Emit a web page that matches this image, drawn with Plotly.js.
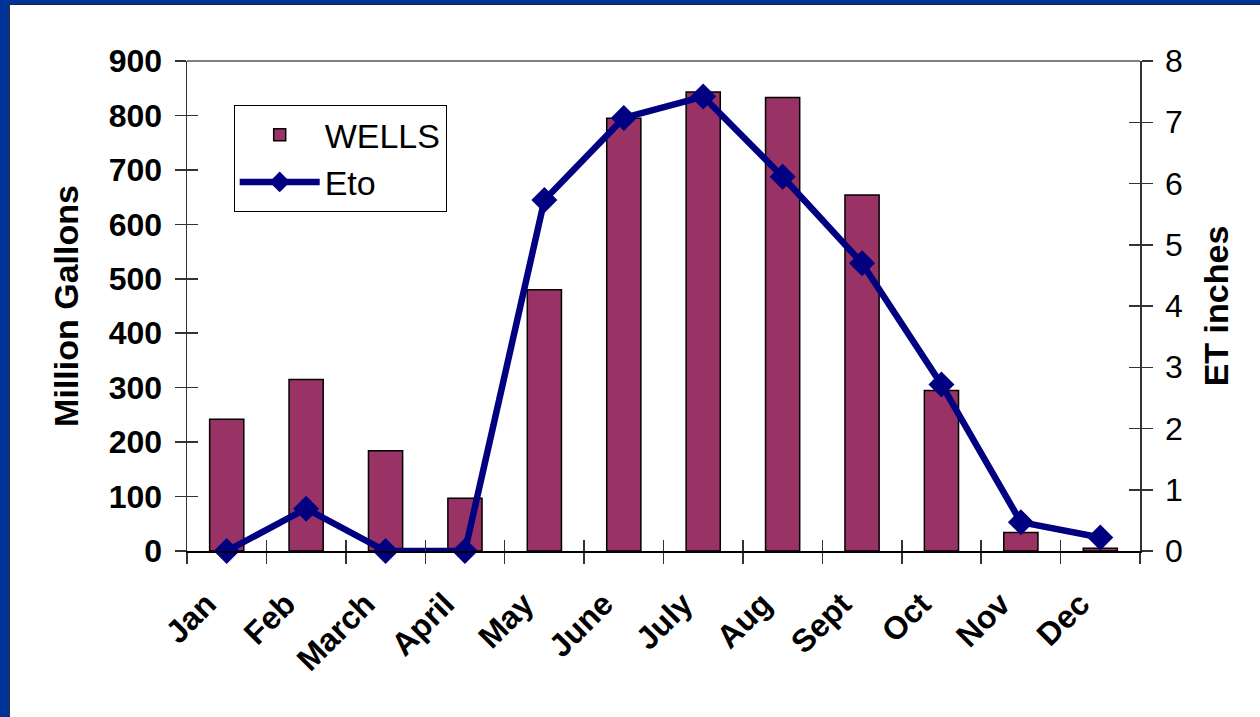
<!DOCTYPE html>
<html>
<head>
<meta charset="utf-8">
<script src="https://cdn.plot.ly/plotly-3.0.1.min.js"></script>
<style>
  html, body { margin: 0; padding: 0; background: #ffffff; }
  #wrap { position: relative; width: 1260px; height: 717px; overflow: hidden; }
  #chart { position: absolute; left: 0; top: 0; width: 1260px; height: 717px; }
  .frame { position: absolute; pointer-events: none; }
</style>
</head>
<body>
<div id="wrap">
  <div id="chart"></div>
  <div class="frame" style="left:0;top:0;width:9px;height:717px;background:#003399;"></div>
  <div class="frame" style="left:9px;top:5px;width:1px;height:712px;background:#333333;"></div>
  <div class="frame" style="left:0;top:0;width:1260px;height:4px;background:#003399;"></div>
  <div class="frame" style="left:9px;top:4px;width:1251px;height:1px;background:#222233;"></div>
</div>
<script>
// ---- data ----
const months = ['Jan', 'Feb', 'March', 'April', 'May', 'June', 'July', 'Aug', 'Sept', 'Oct', 'Nov', 'Dec'];
const wells = [242, 315, 184, 97, 480, 795, 843, 833, 654, 295, 34, 5];
const eto = [0, 0.69, 0, 0, 5.73, 7.07, 7.42, 6.11, 4.70, 2.72, 0.47, 0.22];
const leftTicks = [0, 100, 200, 300, 400, 500, 600, 700, 800, 900];
const rightTicks = [0, 1, 2, 3, 4, 5, 6, 7, 8];
const boundaryTicks = [-0.5, 0.5, 1.5, 2.5, 3.5, 4.5, 5.5, 6.5, 7.5, 8.5, 9.5, 10.5, 11.5];

const FONT = 'Liberation Sans, Arial, Helvetica, sans-serif';

const traces = [
  {
    type: 'bar', name: 'WELLS', x: months, y: wells,
    marker: { color: '#993366', line: { color: '#000000', width: 1.5 } },
    width: 0.43, hoverinfo: 'x+y'
  },
  {
    type: 'scatter', mode: 'lines+markers', name: 'Eto', x: months, y: eto, yaxis: 'y2',
    line: { color: '#000080', width: 6.5 },
    marker: { symbol: 'diamond', size: 20, color: '#000080' },
    cliponaxis: false
  },
  // invisible placeholder traces so the tick-only overlay axes get drawn
  { type: 'scatter', mode: 'markers', x: [-1], y: [-1], marker: { opacity: 0 }, xaxis: 'x2', yaxis: 'y3', showlegend: false, hoverinfo: 'skip' },
  { type: 'scatter', mode: 'markers', x: [-1], y: [-1], marker: { opacity: 0 }, xaxis: 'x2', yaxis: 'y4', showlegend: false, hoverinfo: 'skip' }
];

const tickCommon = { ticklen: 11, tickwidth: 1.5, tickcolor: '#333333' };

const layout = {
  width: 1260, height: 717,
  paper_bgcolor: '#ffffff', plot_bgcolor: '#ffffff',
  margin: { l: 187, r: 120, t: 61, b: 166, pad: 0 },
  font: { family: FONT, color: '#000000' },
  showlegend: true,
  legend: {
    x: 0.049, y: 0.91, xanchor: 'left', yanchor: 'top',
    bgcolor: '#ffffff', bordercolor: '#000000', borderwidth: 1,
    font: { family: FONT, size: 34, color: '#000000' },
    itemwidth: 80, traceorder: 'normal', tracegroupgap: 0
  },
  xaxis: Object.assign({
    type: 'category', categoryorder: 'array', categoryarray: months,
    range: [-0.5, 11.5], tickson: 'boundaries',
    ticks: 'outside',
    showline: true, linecolor: '#000000', linewidth: 1.5,
    showgrid: false, zeroline: false,
    tickangle: -45,
    ticklabelstandoff: 20, ticklabelshift: -20,
    tickfont: { family: FONT, size: 32, weight: 700, color: '#000000' },
    fixedrange: true
  }, tickCommon),
  yaxis: Object.assign({
    range: [0, 900], tickvals: leftTicks, ticktext: leftTicks.map(String),
    ticks: 'outside',
    showline: true, linecolor: '#333333', linewidth: 1.5,
    showgrid: false, zeroline: false,
    tickfont: { family: FONT, size: 32, weight: 700, color: '#000000' },
    ticklabelstandoff: 6,
    title: { text: 'Million Gallons', font: { family: FONT, size: 34, weight: 700, color: '#000000' }, standoff: 20 },
    fixedrange: true
  }, tickCommon),
  yaxis2: Object.assign({
    overlaying: 'y', side: 'right', anchor: 'x',
    range: [0, 8], tickvals: rightTicks, ticktext: rightTicks.map(String),
    ticks: 'outside',
    showline: true, linecolor: '#333333', linewidth: 1.5,
    showgrid: false, zeroline: false,
    tickfont: { family: FONT, size: 32, color: '#000000' },
    ticklabelstandoff: 6,
    title: { text: 'ET inches', font: { family: FONT, size: 34, weight: 700, color: '#000000' }, standoff: 22 },
    fixedrange: true
  }, tickCommon),
  // overlay axes that only draw the inner half of the crossing tick marks
  xaxis2: Object.assign({
    overlaying: 'x', anchor: 'y3', side: 'bottom',
    range: [-0.5, 11.5], tickvals: boundaryTicks,
    ticks: 'inside',
    showticklabels: false, showline: false, showgrid: false, zeroline: false, fixedrange: true
  }, tickCommon),
  yaxis3: Object.assign({
    overlaying: 'y', anchor: 'x2', side: 'left',
    range: [0, 900], tickvals: leftTicks,
    ticks: 'inside',
    showticklabels: false, showline: false, showgrid: false, zeroline: false, fixedrange: true
  }, tickCommon),
  yaxis4: Object.assign({
    overlaying: 'y', anchor: 'x2', side: 'right',
    range: [0, 8], tickvals: rightTicks,
    ticks: 'inside',
    showticklabels: false, showline: false, showgrid: false, zeroline: false, fixedrange: true
  }, tickCommon),
  shapes: [
    { type: 'line', xref: 'paper', yref: 'paper', x0: 0, x1: 1, y0: 1, y1: 1,
      line: { color: '#808080', width: 2 }, layer: 'above' }
  ]
};

Plotly.newPlot('chart', traces, layout, { displayModeBar: false, staticPlot: true });
</script>
</body>
</html>
